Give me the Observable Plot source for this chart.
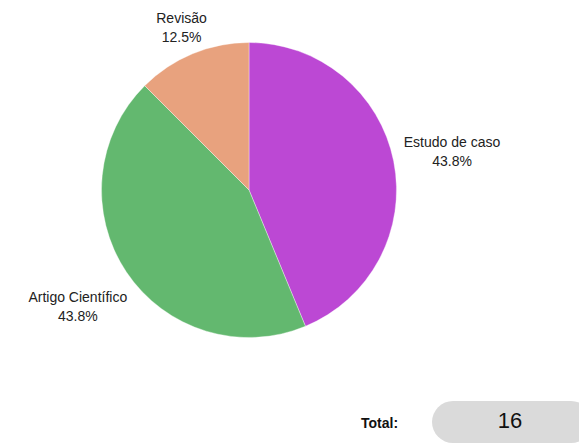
<!DOCTYPE html>
<html>
<head>
<meta charset="utf-8">
<script src="https://cdn.jsdelivr.net/npm/d3@7"></script>
<script src="https://cdn.jsdelivr.net/npm/@observablehq/plot@0.6"></script>
<style>
  html, body { margin: 0; padding: 0; background: #fff; }
  #wrap { position: relative; width: 579px; height: 444px; font-family: "Liberation Sans", Arial, sans-serif; }
  #total-label { position: absolute; left: 361px; top: 415px; font-size: 14px; font-weight: bold; color: #111; }
  #total-box { position: absolute; left: 432px; top: 401px; width: 160px; height: 42px; border-radius: 21px; background: #dadada; }
  #total-value { position: absolute; left: 432px; top: 400px; width: 156px; height: 42px; line-height: 42px; text-align: center; font-size: 22px; color: #111; }
</style>
</head>
<body>
<div id="wrap">
  <div id="chart"></div>
  <div id="total-label">Total:</div>
  <div id="total-box"></div>
  <div id="total-value"></div>
</div>
<script>
const categories = ["Estudo de caso", "Artigo Científico", "Revisão"];
const counts = [7, 7, 2];
const percentLabels = ["43.8%", "43.8%", "12.5%"];
const colors = ["#bc48d4", "#63b86f", "#e8a27e"];
const total = 16;

const data = categories.map((c, i) => ({category: c, count: counts[i], pct: percentLabels[i]}));
const arcs = d3.pie().sort(null).value(d => d.count)(data);

const labelR = 1.4, topLimit = 1.112;
const labels = arcs.map(a => {
  const m = (a.startAngle + a.endAngle) / 2;
  const s = Math.sin(m), c = Math.cos(m);
  let r = labelR;
  if (c > 0 && r * c > topLimit) r = topLimit / c;
  return {x: r * s, y: r * c, text: a.data.category + "\n" + a.data.pct};
});

const W = 579, H = 380;
const plot = Plot.plot({
  width: W,
  height: H,
  marginLeft: 101.5,
  marginRight: 182.5,
  marginTop: 42.5,
  marginBottom: 42.5,
  x: {domain: [-1, 1], axis: null},
  y: {domain: [-1, 1], axis: null},
  style: {fontFamily: "'Liberation Sans', Arial, sans-serif", background: "white"},
  marks: [
    (index, scales) => {
      const cx = scales.x(0), cy = scales.y(0);
      const R = scales.x(1) - scales.x(0);
      const g = d3.create("svg:g").attr("transform", `translate(${cx},${cy})`);
      const arcGen = d3.arc().innerRadius(0).outerRadius(R);
      g.selectAll("path").data(arcs).join("path")
        .attr("d", arcGen)
        .attr("fill", (d, i) => colors[i])
        .attr("stroke", "#ffffff")
        .attr("stroke-opacity", 0.6)
        .attr("stroke-width", 0.6);
      return g.node();
    },
    Plot.text(labels, {
      x: "x", y: "y", text: "text",
      fontSize: 14, fill: "#222", lineHeight: 1.35,
      textAnchor: "middle", lineAnchor: "middle"
    })
  ]
});
document.getElementById("chart").appendChild(plot);
document.getElementById("total-value").textContent = String(total);
</script>
</body>
</html>
